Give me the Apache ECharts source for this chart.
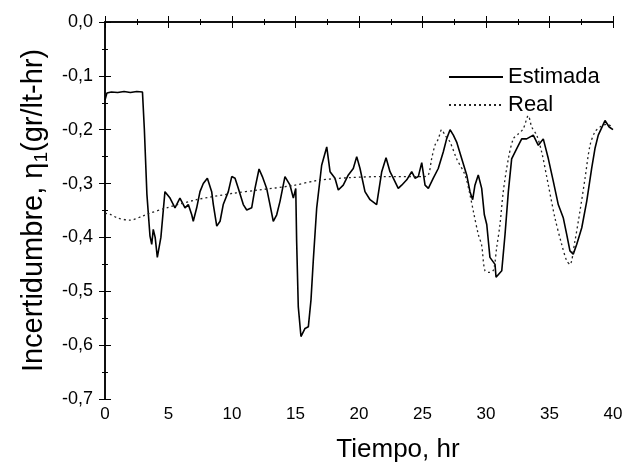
<!DOCTYPE html>
<html><head><meta charset="utf-8">
<script src="https://cdn.jsdelivr.net/npm/echarts@6/dist/echarts.min.js"></script>
<style>html,body{margin:0;padding:0;background:#fff}#c{width:628px;height:468px}</style>
</head><body><div id="c"></div>
<script>
const estTime = [0,0.15,0.5,1.0,1.5,2.0,2.5,2.95,3.1,3.3,3.54,3.68,3.8,3.95,4.12,4.4,4.72,5.12,5.51,5.9,6.3,6.56,6.83,6.95,7.22,7.48,7.74,8.06,8.4,8.53,8.8,9.06,9.31,9.71,9.98,10.24,10.5,10.89,11.16,11.55,11.81,12.13,12.39,12.73,12.99,13.25,13.52,13.78,14.17,14.57,14.83,15.02,15.09,15.22,15.43,15.75,16.01,16.22,16.4,16.67,17.06,17.46,17.72,18.11,18.37,18.76,19.16,19.55,19.82,20.08,20.47,20.87,21.39,21.79,22.13,22.44,22.7,23.09,23.36,23.76,24.15,24.41,24.67,24.94,25.2,25.46,25.85,26.24,26.64,26.9,27.17,27.43,27.69,28.09,28.48,28.74,28.95,29.13,29.39,29.66,29.87,30.06,30.31,30.71,30.79,31.24,31.5,31.76,32.02,32.42,32.81,33.2,33.72,34.12,34.51,34.91,35.3,35.69,36.09,36.35,36.61,36.87,37.14,37.54,37.93,38.32,38.58,38.84,39.37,39.7,40];
const estValue = [-0.145,-0.132,-0.13,-0.131,-0.129,-0.131,-0.129,-0.13,-0.2,-0.32,-0.397,-0.413,-0.385,-0.4,-0.437,-0.4,-0.315,-0.327,-0.345,-0.327,-0.345,-0.339,-0.358,-0.37,-0.345,-0.315,-0.3,-0.29,-0.315,-0.339,-0.379,-0.37,-0.339,-0.315,-0.287,-0.29,-0.309,-0.339,-0.349,-0.345,-0.309,-0.273,-0.287,-0.309,-0.339,-0.37,-0.358,-0.333,-0.287,-0.303,-0.327,-0.309,-0.407,-0.529,-0.584,-0.569,-0.566,-0.516,-0.443,-0.345,-0.266,-0.232,-0.278,-0.29,-0.312,-0.303,-0.284,-0.272,-0.25,-0.272,-0.315,-0.33,-0.339,-0.278,-0.252,-0.278,-0.29,-0.309,-0.303,-0.293,-0.278,-0.29,-0.287,-0.261,-0.303,-0.309,-0.29,-0.272,-0.241,-0.217,-0.2,-0.21,-0.223,-0.254,-0.284,-0.315,-0.33,-0.303,-0.284,-0.309,-0.358,-0.376,-0.437,-0.45,-0.474,-0.462,-0.394,-0.315,-0.254,-0.235,-0.217,-0.217,-0.21,-0.229,-0.217,-0.254,-0.296,-0.339,-0.364,-0.394,-0.425,-0.431,-0.413,-0.382,-0.333,-0.272,-0.235,-0.21,-0.183,-0.195,-0.2];
const realTime = [0,0.4,1.0,1.97,3.0,3.41,4.86,7.2,10.1,12.07,14.7,16.8,19.3,21.9,25.06,25.46,25.72,25.98,26.25,26.51,26.77,27.17,27.69,28.35,28.74,29.0,29.39,29.66,29.92,30.31,30.6,30.84,31.1,31.36,31.76,32.15,32.54,32.94,33.33,33.6,33.99,34.38,34.91,35.43,35.96,36.35,36.61,37.0,37.4,37.8,38.19,38.58,38.98,39.5,40];
const realValue = [-0.355,-0.357,-0.364,-0.368,-0.36,-0.356,-0.345,-0.33,-0.318,-0.312,-0.304,-0.294,-0.289,-0.287,-0.287,-0.284,-0.254,-0.229,-0.217,-0.2,-0.21,-0.223,-0.254,-0.284,-0.321,-0.351,-0.394,-0.415,-0.462,-0.465,-0.46,-0.419,-0.376,-0.315,-0.254,-0.217,-0.208,-0.198,-0.174,-0.195,-0.21,-0.241,-0.303,-0.364,-0.413,-0.443,-0.45,-0.407,-0.351,-0.29,-0.229,-0.204,-0.195,-0.19,-0.195];
const xTicks = [0,5,10,15,20,25,30,35,40];
const yTicks = [0,-0.1,-0.2,-0.3,-0.4,-0.5,-0.6,-0.7];
const seriesNames = ['Estimada','Real'];

const chart = echarts.init(document.getElementById('c'));
const font = 'Liberation Sans, Arial, sans-serif';
const fmtY = v => (Math.abs(v) < 1e-9 ? '0,0' : v.toFixed(1).replace('.', ','));
const axisCommon = {
  axisLine: {show: true, lineStyle: {color: '#000', width: 1.5}},
  axisTick: {show: true, inside: true, length: 6, lineStyle: {color: '#000', width: 1}},
  minorTick: {show: true, splitNumber: 2, length: 3, lineStyle: {color: '#000', width: 1}},
  splitLine: {show: false}
};
chart.setOption({
  animation: false,
  backgroundColor: '#fff',
  grid: {left: 105, right: 15, top: 22, bottom: 65},
  legend: {
    orient: 'vertical', left: 443, top: 61, itemGap: 6,
    itemWidth: 54, itemHeight: 14,
    itemStyle: {opacity: 0},
    textStyle: {fontFamily: font, fontSize: 22, color: '#000'},
    data: seriesNames
  },
  xAxis: [
    Object.assign({}, axisCommon, {
      type: 'value', min: 0, max: 40, interval: 5, position: 'bottom',
      name: 'Tiempo, hr', nameLocation: 'middle', nameGap: 38,
      nameTextStyle: {fontFamily: font, fontSize: 26, color: '#000', padding: [0, 0, 0, 78]},
      axisLabel: {fontFamily: font, fontSize: 17, color: '#000', margin: 7,
        formatter: v => xTicks.includes(v) ? String(v) : ''}
    }),
    Object.assign({}, axisCommon, {
      type: 'value', min: 0, max: 40, interval: 5, position: 'top',
      axisLabel: {show: false}
    })
  ],
  yAxis: [
    Object.assign({}, axisCommon, {
      type: 'value', min: -0.7, max: 0, interval: 0.1, position: 'left',
      name: '{a|Incertidumbre, η}{s|1}{a|(gr/lt-hr)}', nameLocation: 'middle', nameGap: 54,
      nameTextStyle: {fontFamily: font, fontSize: 29, color: '#000',
        rich: {
          a: {fontFamily: font, fontSize: 29, color: '#000', lineHeight: 34},
          s: {fontFamily: font, fontSize: 19, color: '#000', lineHeight: 34, verticalAlign: 'bottom', padding: [12, 0, 0, 0]}
        }},
      axisLabel: {fontFamily: font, fontSize: 18, color: '#000', margin: 12,
        formatter: fmtY}
    }),
    Object.assign({}, axisCommon, {
      type: 'value', min: -0.7, max: 0, interval: 0.1, position: 'right',
      axisLabel: {show: false}
    })
  ],
  series: [
    {
      name: seriesNames[0], type: 'line', xAxisIndex: 0, yAxisIndex: 0,
      data: estTime.map((t, i) => [t, estValue[i]]),
      showSymbol: false, symbol: 'none',
      lineStyle: {color: '#000', width: 1.6},
      itemStyle: {color: '#000'}
    },
    {
      name: seriesNames[1], type: 'line', xAxisIndex: 0, yAxisIndex: 0,
      data: realTime.map((t, i) => [t, realValue[i]]),
      showSymbol: false, symbol: 'none', smooth: 0.3,
      lineStyle: {color: '#222', width: 1.3, type: [2, 3]},
      itemStyle: {color: '#222'}
    }
  ]
});
</script></body></html>
